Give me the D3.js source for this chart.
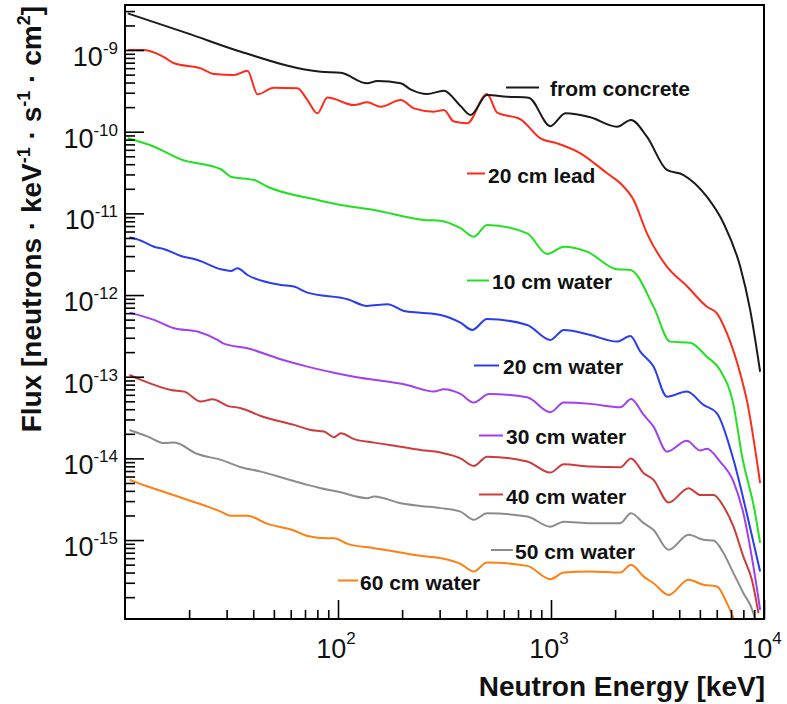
<!DOCTYPE html>
<html>
<head>
<meta charset="utf-8">
<script src="https://cdn.jsdelivr.net/npm/d3@7"></script>
<style>
  html, body { margin: 0; padding: 0; background: #fff; }
  svg { display: block; font-family: "Liberation Sans", Arial, Helvetica, sans-serif; }
</style>
</head>
<body>
<svg id="chart" width="787" height="704"></svg>
<script>
// ---------------- data ----------------
const seriesNames = ["from concrete", "20 cm lead", "10 cm water", "20 cm water",
                     "30 cm water", "40 cm water", "50 cm water", "60 cm water"];

const concreteE = [10.3,19.7,35,83,103,137,153,197,219,262,314,376,419,501,622,786,993,1169,1529,2040,2373,2820,3500,4190,5390,6460,7730,8610,9590];
const concreteF = [2.81e-9,1.6e-9,9.53e-10,5.42e-10,5.27e-10,3.91e-10,4.18e-10,3.91e-10,3.3e-10,2.89e-10,3.18e-10,2.06e-10,1.6e-10,2.81e-10,2.68e-10,2.61e-10,1.17e-10,1.68e-10,1.5e-10,1.15e-10,1.39e-10,8.69e-11,3.4e-11,2.95e-11,1.6e-11,7.57e-12,2.23e-12,6.58e-13,1.15e-13];

const leadE = [10.3,12.3,15.3,17,22.7,26.2,32.5,37.6,41.9,50,64.5,71.9,80,89.2,119,137,159,197,227,282,314,350,404,501,559,719,892,1068,1374,1833,2115,2443,2821,3500,4342,5393,6012,6700,7730,8300,9590];
const leadF = [1.0e-9,1.0e-9,8.14e-10,6.88e-10,5.97e-10,5.08e-10,4.94e-10,5.58e-10,2.87e-10,3.46e-10,3.4e-10,2.44e-10,1.68e-10,2.63e-10,2.12e-10,2.29e-10,2.02e-10,2.44e-10,1.93e-10,1.76e-10,1.84e-10,1.33e-10,1.27e-10,2.89e-10,1.71e-10,1.42e-10,8.3e-11,7.2e-11,5.44e-11,3.1e-11,2.34e-11,1.46e-11,5.7e-12,2.23e-12,1.29e-12,7.2e-13,5.98e-13,3.4e-13,1.1e-13,5.2e-14,4.98e-15];

const water10E = [10.3,13.7,18.3,28.2,31.4,40.4,46.7,80,103,148,253,303,376,434,501,773,959,1148,1477,2040,2356,3030,3627,4500,5390,6220,7190,7870,9080,9590];
const water10F = [8.3e-11,6.55e-11,4.59e-11,3.47e-11,2.81e-11,2.56e-11,2.12e-11,1.46e-11,1.27e-11,1.1e-11,8.3e-12,8.15e-12,6.58e-12,5.19e-12,7.21e-12,5.7e-12,3.18e-12,3.91e-12,3.4e-12,2.07e-12,2.03e-12,7.21e-13,2.69e-13,2.61e-13,1.76e-13,1.21e-13,4.52e-14,1.1e-14,2.15e-15,9.2e-16];

const water20E = [10.5,11.9,13.7,15.3,18.3,21.9,28.2,31.4,33.7,37.6,53.8,62.2,71.9,111,137,171,204,244,303,376,427,501,773,993,1148,1529,2040,2356,2625,3030,3500,4342,5200,6012,7190,8300,9590];
const water20F = [5.09e-12,4.63e-12,3.91e-12,3.64e-12,3.01e-12,2.69e-12,2.07e-12,1.97e-12,2.13e-12,1.76e-12,1.33e-12,1.27e-12,1.07e-12,8.89e-13,7.36e-13,7.71e-13,6.39e-13,6.09e-13,5.71e-13,4.59e-13,3.74e-13,5.09e-13,4.3e-13,2.82e-13,3.74e-13,3.25e-13,2.69e-13,3.15e-13,2.03e-13,1.33e-13,5.7e-14,6.57e-14,4.52e-14,3.57e-14,9.6e-15,2.13e-15,4.12e-16];

const water30E = [10.5,13.7,17,21.9,27.2,29.3,37.6,53.8,71.9,95.7,119,211,282,314,376,434,511,773,993,1148,1529,2115,2375,2725,3030,3500,4342,5010,5390,6220,7190,8000,8920,9590];
const water30F = [6.09e-13,4.96e-13,3.92e-13,3.57e-13,2.82e-13,2.52e-13,2.23e-13,1.64e-13,1.33e-13,1.12e-13,1.0e-13,7.94e-14,6.58e-14,7.03e-14,6.15e-14,4.82e-14,6.15e-14,5.61e-14,3.67e-14,4.82e-14,4.65e-14,4.23e-14,5.35e-14,3.4e-14,2.45e-14,1.21e-14,1.64e-14,1.25e-14,1.31e-14,9.14e-15,5.2e-15,2.13e-15,4.74e-16,1.4e-16];

const water40E = [10.5,11.9,16.4,19,22.7,25.8,30.3,35,43.4,62.2,74.5,86,95.7,103,119,148,197,244,303,376,434,501,773,993,1148,1529,2115,2375,2725,3030,3567,4423,5010,5800,6460,7190,8000,8770,9420];
const water40F = [1.05e-13,9.14e-14,6.89e-14,6.57e-14,4.96e-14,5.31e-14,4.4e-14,4.12e-14,3.31e-14,2.57e-14,2.23e-14,2.13e-14,1.82e-14,2.03e-14,1.72e-14,1.56e-14,1.39e-14,1.27e-14,1.18e-14,1.0e-14,8.09e-15,1.05e-14,9.14e-15,6.7e-15,8.5e-15,7.94e-15,7.8e-15,1.0e-14,6.59e-15,5.46e-15,2.88e-15,4.32e-15,3.57e-15,3.57e-15,2.57e-15,1.46e-15,6.28e-16,3.26e-16,1.27e-16];

const water50E = [10.5,12.8,15.3,17,21.9,28.2,35,43.4,57.9,71.9,83,99.3,137,148,197,244,303,376,434,501,773,993,1148,1529,2115,2375,2725,3030,3567,4423,5200,5800,6460,7190,8000,8920,9300];
const water50F = [2.23e-14,1.85e-14,1.54e-14,1.56e-14,1.13e-14,9.59e-15,7.8e-15,6.89e-15,5.56e-15,4.74e-15,4.32e-15,3.93e-15,3.26e-15,3.41e-15,2.83e-15,2.62e-15,2.46e-15,2.23e-15,1.77e-15,2.13e-15,1.94e-15,1.46e-15,1.68e-15,1.61e-15,1.61e-15,2.13e-15,1.61e-15,1.33e-15,7.59e-16,1.16e-15,1.01e-15,9.86e-16,6.91e-16,3.94e-16,2.24e-16,1.27e-16,8e-17];

const water60E = [10.5,12.8,15.9,19.7,24.4,28.2,31.4,37.6,46.7,62.2,71.9,89.2,95.7,111,148,197,244,303,376,434,501,773,993,1148,1529,2115,2375,2725,3030,3567,4423,5200,6012,6700,7190,7700,8300,9800];
const water60F = [5.46e-15,4.52e-15,3.75e-15,3.1e-15,2.57e-15,2.23e-15,1.98e-15,1.98e-15,1.58e-15,1.31e-15,1.12e-15,1.05e-15,1.05e-15,8.98e-16,7.96e-16,7.03e-16,6.41e-16,6.01e-16,5.12e-16,4.12e-16,5.31e-16,4.83e-16,3.32e-16,4.0e-16,4.12e-16,4.0e-16,4.98e-16,3.57e-16,2.96e-16,2.13e-16,3.26e-16,2.83e-16,2.7e-16,1.69e-16,1.11e-16,null,1.08e-16,1.08e-16];

const seriesE = [concreteE, leadE, water10E, water20E, water30E, water40E, water50E, water60E];
const seriesF = [concreteF, leadF, water10F, water20F, water30F, water40F, water50F, water60F];

const xTickValues = [100, 1000, 10000];
const xTickExps = ["2", "3", "4"];
const yTickValues = [1e-9, 1e-10, 1e-11, 1e-12, 1e-13, 1e-14, 1e-15];
const yTickExps = ["-9", "-10", "-11", "-12", "-13", "-14", "-15"];

// ---------------- styles / layout ----------------
const colors = ["#1a1a1a", "#ff2a1a", "#22e022", "#2a3cf0", "#a040f0", "#cc3c3c", "#8c8c8c", "#ff7f10"];
// legend placement: [x of line start, x of line end, y of line, text x, text baseline]
const legendPos = [
  [506, 539, 87.5, 550, 96],
  [467, 485, 173.5, 488, 183],
  [467, 489, 280.5, 492, 289],
  [474, 499, 365.5, 503, 373.5],
  [479, 503, 435.5, 506, 443.5],
  [479, 503, 494.5, 506, 503.5],
  [491, 513, 550, 515, 559],
  [338, 358, 580.5, 360, 590]
];

const L = 125, R = 764, T = 5, B = 619;
const svg = d3.select("#chart");

const x = d3.scaleLog().domain([10, 1e4]).range([L, R]);
const y = d3.scaleLog().domain([1.08e-16, 3.56e-9]).range([B, T]);

svg.append("defs").append("clipPath").attr("id", "plotclip")
  .append("rect").attr("x", L).attr("y", T).attr("width", R - L).attr("height", B - T);

// ---------------- curves ----------------
const line = d3.line()
  .defined(d => d[1] != null)
  .x(d => x(d[0]))
  .y(d => y(d[1]))
  .curve(d3.curveMonotoneX);

const curves = svg.append("g").attr("clip-path", "url(#plotclip)");
for (let i = seriesE.length - 1; i >= 0; i--) {
  const pts = seriesE[i].map((e, j) => [e, seriesF[i][j]]);
  curves.append("path")
    .attr("d", line(pts))
    .attr("fill", "none")
    .attr("stroke", colors[i])
    .attr("stroke-width", 2)
    .attr("stroke-linejoin", "round");
}

// ---------------- axes ----------------
function minorTicks(lo, hi) {
  const out = [];
  for (let p = Math.floor(Math.log10(lo)); p <= Math.ceil(Math.log10(hi)); p++) {
    for (let k = 2; k <= 9; k++) {
      const v = k * Math.pow(10, p);
      if (v > lo && v < hi) out.push(v);
    }
  }
  return out;
}

const axisG = svg.append("g");
axisG.append("g").attr("transform", `translate(${L},0)`)
  .call(d3.axisLeft(y).tickValues(minorTicks(1.08e-16, 3.56e-9)).tickSize(-10).tickFormat(""))
  .call(g => g.select(".domain").remove())
  .call(g => g.selectAll("line").attr("stroke", "#000").attr("stroke-width", 1.6));
axisG.append("g").attr("transform", `translate(${L},0)`)
  .call(d3.axisLeft(y).tickValues(yTickValues).tickSize(-19).tickFormat(""))
  .call(g => g.select(".domain").remove())
  .call(g => g.selectAll("line").attr("stroke", "#000").attr("stroke-width", 1.6));
axisG.append("g").attr("transform", `translate(0,${B})`)
  .call(d3.axisBottom(x).tickValues(minorTicks(10, 1e4)).tickSize(-9).tickFormat(""))
  .call(g => g.select(".domain").remove())
  .call(g => g.selectAll("line").attr("stroke", "#000").attr("stroke-width", 1.6));
axisG.append("g").attr("transform", `translate(0,${B})`)
  .call(d3.axisBottom(x).tickValues(xTickValues).tickSize(-19).tickFormat(""))
  .call(g => g.select(".domain").remove())
  .call(g => g.selectAll("line").attr("stroke", "#000").attr("stroke-width", 1.6));

svg.append("rect").attr("x", L).attr("y", T).attr("width", R - L).attr("height", B - T)
  .attr("fill", "none").attr("stroke", "#000").attr("stroke-width", 2);

yTickValues.forEach((v, i) => {
  const t = svg.append("text")
    .attr("x", 118).attr("y", y(v) + 16)
    .attr("text-anchor", "end")
    .attr("font-size", 27).attr("fill", "#111");
  t.append("tspan").text("10");
  t.append("tspan").attr("dy", -12).attr("font-size", 17).text(yTickExps[i]);
});
xTickValues.forEach((v, i) => {
  const t = svg.append("text")
    .attr("x", x(v) - 2).attr("y", 658)
    .attr("text-anchor", "middle")
    .attr("font-size", 27).attr("fill", "#111");
  t.append("tspan").text("10");
  t.append("tspan").attr("dy", -14).attr("font-size", 17).text(xTickExps[i]);
});

svg.append("text")
  .attr("x", R + 1).attr("y", 696)
  .attr("text-anchor", "end")
  .attr("font-size", 28).attr("font-weight", "bold").attr("fill", "#111")
  .text("Neutron Energy [keV]");

const yt = svg.append("text")
  .attr("transform", "translate(41,6) rotate(-90)")
  .attr("text-anchor", "end")
  .attr("font-size", 28).attr("font-weight", "bold").attr("fill", "#111");
yt.append("tspan").text("Flux [neutrons \u00B7 keV");
yt.append("tspan").attr("dy", -11).attr("font-size", 18).text("-1");
yt.append("tspan").attr("dy", 11).text(" \u00B7 s");
yt.append("tspan").attr("dy", -11).attr("font-size", 18).text("-1");
yt.append("tspan").attr("dy", 11).text(" \u00B7 cm");
yt.append("tspan").attr("dy", -11).attr("font-size", 18).text("2");
yt.append("tspan").attr("dy", 11).text("]");

const legend = svg.append("g");
seriesNames.forEach((name, i) => {
  const p = legendPos[i];
  legend.append("line")
    .attr("x1", p[0]).attr("x2", p[1]).attr("y1", p[2]).attr("y2", p[2])
    .attr("stroke", colors[i]).attr("stroke-width", 2);
  legend.append("text")
    .attr("x", p[3]).attr("y", p[4])
    .attr("font-size", 21).attr("font-weight", "bold").attr("fill", "#111")
    .text(name);
});
</script>
</body>
</html>
